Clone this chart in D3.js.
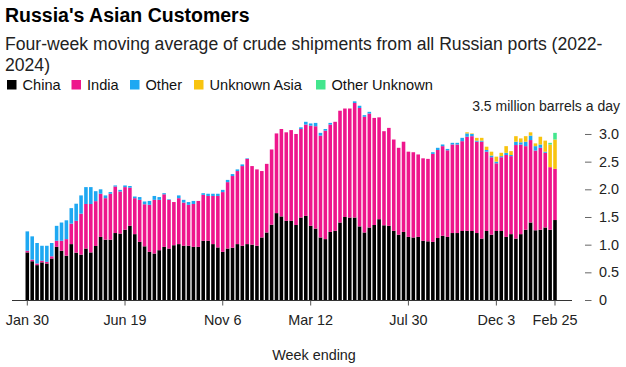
<!DOCTYPE html>
<html>
<head>
<meta charset="utf-8">
<script src="https://cdn.jsdelivr.net/npm/d3@7"></script>
<style>
  html, body { margin: 0; padding: 0; background: #fff; }
  svg { display: block; font-family: "Liberation Sans", Arial, Helvetica, sans-serif; }
</style>
</head>
<body>
<div id="chart"></div>
<script>
// ---------- DATA (million barrels a day, 4-week moving average) ----------
const firstWeek = "2022-01-30";
const lastWeek = "2024-02-25";

const china = [
  0.86,0.70,0.63,0.68,0.66,0.75,0.96,0.89,0.80,1.01,
  0.855,0.82,0.93,0.86,0.976,1.14,1.09,1.09,1.21,1.20,
  1.27,1.34,1.19,1.05,0.97,0.87,0.84,0.90,0.96,0.93,
  0.99,1.01,0.98,0.98,0.96,0.96,1.07,1.07,1.01,0.95,
  0.87,0.93,0.945,1.01,0.98,1.01,1.00,0.98,1.13,1.22,
  1.36,1.57,1.51,1.43,1.43,1.355,1.49,1.52,1.34,1.29,
  1.13,1.10,1.23,1.25,1.40,1.50,1.49,1.49,1.33,1.22,
  1.31,1.355,1.46,1.35,1.34,1.25,1.18,1.23,1.14,1.13,
  1.14,1.07,1.06,1.05,1.12,1.16,1.14,1.21,1.21,1.247,
  1.25,1.247,1.21,1.11,1.247,1.18,1.247,1.247,1.14,1.19,
  1.11,1.19,1.27,1.40,1.26,1.27,1.31,1.27,1.445
];
const india = [
  0.03,0.03,0.03,0.03,0.03,0.04,0.11,0.18,0.30,0.37,
  0.575,0.74,0.805,0.875,0.81,0.78,0.75,0.83,0.84,0.76,
  0.77,0.69,0.65,0.76,0.76,0.85,0.97,0.91,0.95,0.88,
  0.78,0.83,0.78,0.74,0.775,0.83,0.83,0.81,0.87,0.93,
  1.08,1.20,1.295,1.32,1.44,1.54,1.42,1.38,1.20,1.24,
  1.36,1.44,1.58,1.60,1.64,1.645,1.60,1.65,1.81,1.85,
  1.84,1.96,1.94,1.97,2.02,1.96,1.97,2.07,2.14,2.09,
  2.06,1.935,1.84,1.70,1.77,1.65,1.57,1.63,1.54,1.54,
  1.49,1.49,1.49,1.59,1.59,1.62,1.565,1.60,1.60,1.623,
  1.70,1.713,1.65,1.75,1.433,1.40,1.223,1.333,1.48,1.41,
  1.69,1.62,1.51,1.49,1.44,1.48,1.35,1.13,0.925
];
const other = [
  0.35,0.42,0.37,0.27,0.29,0.24,0.27,0.33,0.34,0.28,
  0.31,0.33,0.305,0.305,0.18,0.08,0.05,0.03,0.02,0.03,
  0.03,0.03,0.03,0.05,0.05,0.07,0.07,0.05,0.02,0.01,
  0.00,0.05,0.05,0.05,0.055,0.00,0.03,0.04,0.04,0.04,
  0.04,0.04,0.035,0.03,0.03,0.01,0.00,0.00,0.00,0.00,
  0.00,0.00,0.00,0.00,0.00,0.00,0.03,0.05,0.04,0.06,
  0.05,0.03,0.03,0.00,0.00,0.00,0.00,0.03,0.04,0.03,
  0.03,0.00,0.00,0.00,0.00,0.00,0.00,0.00,0.00,0.00,
  0.00,0.00,0.00,0.03,0.04,0.03,0.025,0.03,0.03,0.06,
  0.06,0.04,0.02,0.02,0.03,0.03,0.03,0.02,0.04,0.02,
  0.06,0.04,0.08,0.08,0.08,0.06,0.02,0.00,0.00
];
const unknownAsia = [
  0,0,0,0,0,0,0,0,0,0, 0,0,0,0,0,0,0,0,0,0,
  0,0,0,0,0,0,0,0,0,0, 0,0,0,0,0,0,0,0,0,0,
  0,0,0,0,0,0,0,0,0,0, 0,0,0,0,0,0,0,0,0,0,
  0,0,0,0,0,0,0,0,0,0, 0,0,0,0,0,0,0,0,0,0,
  0,0,0,0,0,0,0,0,0,0,
  0.02,0.01,0.05,0.05,0.06,0.07,0.09,0.06,0.12,0.07,
  0.10,0.07,0.10,0.06,0.05,0.14,0.20,0.41,0.53
];
const otherUnknown = [
  0,0,0,0,0,0,0,0,0,0, 0,0,0,0,0,0,0,0,0,0,
  0,0,0,0,0,0,0,0,0,0, 0,0,0,0,0,0,0,0,0,0,
  0,0,0,0,0,0,0,0,0,0, 0,0,0,0,0,0,0,0,0,0,
  0,0,0,0,0,0,0,0,0,0, 0,0,0,0,0,0,0,0,0,0,
  0,0,0,0,0,0,0,0,0,0, 0,0,0,0,0,0,0,0,0,0,
  0,0,0,0,0,0,0,0.03,0.12
];

const seriesNames = ["China", "India", "Other", "Unknown Asia", "Other Unknown"];
const seriesKeys = ["china", "india", "other", "unknownAsia", "otherUnknown"];
const seriesColors = ["#000000", "#ee168c", "#1ea8f2", "#f8c40f", "#43e68e"];

const xTickDates = ["2022-01-30","2022-06-19","2022-11-06","2023-03-12","2023-07-30","2023-12-03","2024-02-25"];
const xTickLabels = ["Jan 30","Jun 19","Nov 6","Mar 12","Jul 30","Dec 3","Feb 25"];
const yTicks = [0, 0.5, 1.0, 1.5, 2.0, 2.5, 3.0];
const yTickLabels = ["0", "0.5", "1.0", "1.5", "2.0", "2.5", "3.0"];
const yUnitLabel = "3.5 million barrels a day";
const yMax = 3.5;

// ---------- BUILD ----------
const parse = d3.utcParse("%Y-%m-%d");
const weeks = d3.utcWeek.range(parse(firstWeek), d3.utcDay.offset(parse(lastWeek), 1));
const seriesArrays = { china, india, other, unknownAsia, otherUnknown };
const rows = weeks.map((w, i) => {
  const r = { week: +w };
  seriesKeys.forEach(k => r[k] = seriesArrays[k][i]);
  return r;
});

const W = 626, H = 367;
const svg = d3.select("#chart").append("svg").attr("width", W).attr("height", H);

// Title and subtitle
svg.append("text").attr("x", 5).attr("y", 22)
  .attr("font-size", 19.5).attr("font-weight", "bold").attr("fill", "#000")
  .text("Russia's Asian Customers");
const sub = svg.append("text").attr("font-size", 17.6).attr("fill", "#222");
sub.append("tspan").attr("x", 5).attr("y", 50)
  .text("Four-week moving average of crude shipments from all Russian ports (2022-");
sub.append("tspan").attr("x", 5).attr("y", 71).text("2024)");

// Legend
const legendX = [7, 71.5, 130, 194, 316];
const lg = svg.append("g");
seriesNames.forEach((name, i) => {
  lg.append("rect").attr("x", legendX[i]).attr("y", 80).attr("width", 9.5).attr("height", 9.5)
    .attr("fill", seriesColors[i]);
  lg.append("text").attr("x", legendX[i] + 15.5).attr("y", 89.5)
    .attr("font-size", 14.6).attr("fill", "#111").text(name);
});

// Scales
const x = d3.scaleBand()
  .domain(rows.map(d => d.week))
  .range([24.86, 557.44])
  .paddingInner(0.27).paddingOuter(0.135);
const y = d3.scaleLinear().domain([0, yMax]).range([300, 106.3]);

// Stacked bars
const stacked = d3.stack().keys(seriesKeys)(rows);
const color = d3.scaleOrdinal().domain(seriesKeys).range(seriesColors);
svg.append("g").selectAll("g").data(stacked).join("g")
  .attr("fill", s => color(s.key))
  .selectAll("rect").data(s => s.filter(d => d[1] - d[0] > 0)).join("rect")
  .attr("x", d => x(d.data.week))
  .attr("width", x.bandwidth())
  .attr("y", d => y(d[1]))
  .attr("height", d => y(d[0]) - y(d[1]));

// X axis
svg.append("line").attr("x1", 12).attr("x2", 572).attr("y1", y(0) + 0.5).attr("y2", y(0) + 0.5)
  .attr("stroke", "#333").attr("stroke-width", 1);
const tickWeeks = xTickDates.map(s => +parse(s));
const xAxis = d3.axisBottom(x)
  .tickValues(tickWeeks)
  .tickSize(5).tickPadding(9)
  .tickFormat((d, i) => xTickLabels[i]);
const gx = svg.append("g").attr("transform", `translate(0,${y(0) + 0.5})`).call(xAxis);
gx.select(".domain").remove();
gx.selectAll(".tick line").attr("stroke", "#555");
gx.selectAll(".tick text").attr("font-size", 14.4).attr("fill", "#222")
  .attr("font-family", "Liberation Sans, Arial, sans-serif");

svg.append("text").attr("x", 314).attr("y", 360).attr("text-anchor", "middle")
  .attr("font-size", 14.4).attr("fill", "#222").text("Week ending");

// Y axis (right)
const yAxis = d3.axisRight(y).tickValues(yTicks).tickSize(6.5).tickPadding(7.5)
  .tickFormat((d, i) => yTickLabels[i]);
const gy = svg.append("g").attr("transform", "translate(585,0)").call(yAxis);
gy.select(".domain").remove();
gy.selectAll(".tick line").attr("stroke", "#666");
gy.selectAll(".tick text").attr("font-size", 14.4).attr("fill", "#222")
  .attr("font-family", "Liberation Sans, Arial, sans-serif");

svg.append("text").attr("x", 620).attr("y", y(yMax)).attr("dy", "0.35em")
  .attr("text-anchor", "end").attr("font-size", 14).attr("fill", "#222").text(yUnitLabel);
</script>
</body>
</html>
